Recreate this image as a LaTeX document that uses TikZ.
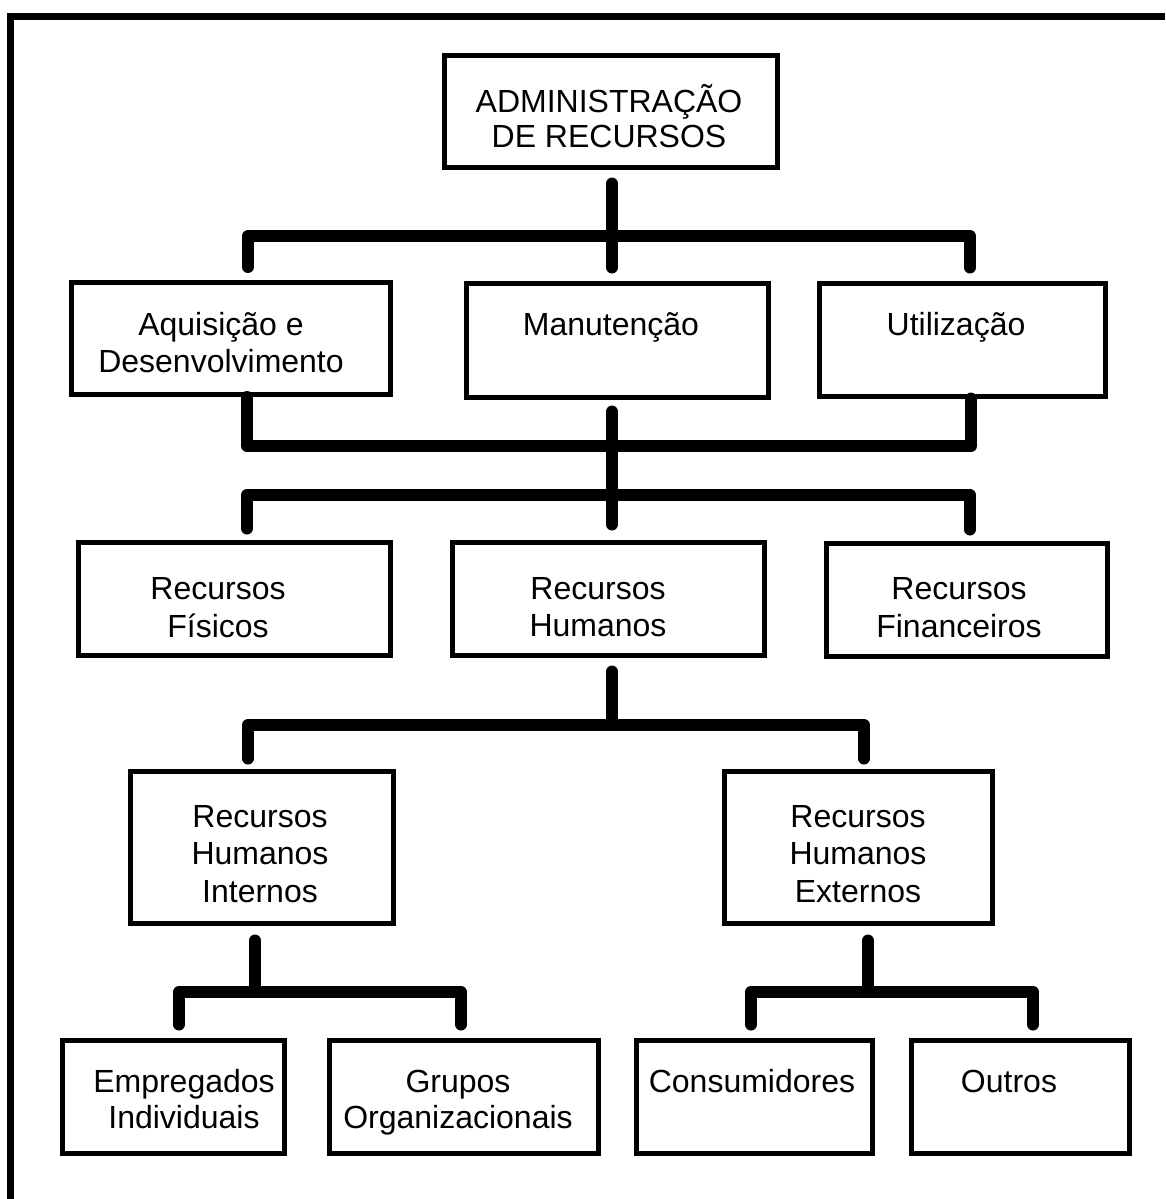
\documentclass[tikz,border=0pt]{standalone}
\usepackage{fontspec}
\setmainfont{Liberation Sans}
\usetikzlibrary{calc}

\tikzset{
  box/.style={draw, rectangle, line width=5pt, inner sep=0pt},
  txt/.style={anchor=base, inner sep=0pt, font=\fontsize{32}{37}\selectfont},
  conn/.style={line width=12pt, line cap=round, line join=round},
  frame/.style={line width=7pt}
}

\begin{document}
\begin{tikzpicture}[x=1pt, y=-1pt]
  \useasboundingbox[fill=white] (0,0) rectangle (1165,1199);

  % outer frame (left and top edges)
  \draw[frame] (10,1199) -- (10,17) -- (1165,17);

  % ---- boxes ----
  \node[box, minimum width=333pt, minimum height=111pt] (top) at (610.5,111.5) {};
  \node[box, minimum width=319.5pt, minimum height=112pt] (aq) at (230.75,338.5) {};
  \node[box, minimum width=302pt, minimum height=114pt] (ma) at (617,340) {};
  \node[box, minimum width=286pt, minimum height=113pt] (ut) at (962,339.5) {};
  \node[box, minimum width=312pt, minimum height=113pt] (fi) at (234,598.5) {};
  \node[box, minimum width=312pt, minimum height=113pt] (hu) at (608,598.5) {};
  \node[box, minimum width=281pt, minimum height=113pt] (fn) at (966.5,599.5) {};
  \node[box, minimum width=263pt, minimum height=152pt] (int) at (261.5,847) {};
  \node[box, minimum width=268pt, minimum height=152pt] (ext) at (858,847) {};
  \node[box, minimum width=222pt, minimum height=113pt] (em) at (173,1096.5) {};
  \node[box, minimum width=269pt, minimum height=113pt] (gr) at (463.5,1096.5) {};
  \node[box, minimum width=236pt, minimum height=113pt] (co) at (754,1096.5) {};
  \node[box, minimum width=218pt, minimum height=113pt] (ou) at (1020,1096.5) {};

  % ---- labels ----
  \node[txt] (top-1) at (609,112) {ADMINISTRAÇÃO};
  \node[txt] (top-2) at (609,147) {DE RECURSOS};
  \node[txt] (aq-1) at (221,335) {Aquisição e};
  \node[txt] (aq-2) at (221,372) {Desenvolvimento};
  \node[txt] (ma-1) at (611,335) {Manutenção};
  \node[txt] (ut-1) at (956,335) {Utilização};
  \node[txt] (fi-1) at (218,599) {Recursos};
  \node[txt] (fi-2) at (218,637) {Físicos};
  \node[txt] (hu-1) at (598,599) {Recursos};
  \node[txt] (hu-2) at (598,636) {Humanos};
  \node[txt] (fn-1) at (959,599) {Recursos};
  \node[txt] (fn-2) at (959,637) {Financeiros};
  \node[txt] (int-1) at (260,827) {Recursos};
  \node[txt] (int-2) at (260,864) {Humanos};
  \node[txt] (int-3) at (260,902) {Internos};
  \node[txt] (ext-1) at (858,827) {Recursos};
  \node[txt] (ext-2) at (858,864) {Humanos};
  \node[txt] (ext-3) at (858,902) {Externos};
  \node[txt] (em-1) at (184,1092) {Empregados};
  \node[txt] (em-2) at (184,1128) {Individuais};
  \node[txt] (gr-1) at (458,1092) {Grupos};
  \node[txt] (gr-2) at (458,1128) {Organizacionais};
  \node[txt] (co-1) at (752,1092) {Consumidores};
  \node[txt] (ou-1) at (1009,1092) {Outros};

  % ---- junction points of the bars ----
  \coordinate (c1l) at (248,236);
  \coordinate (c1m) at (612,236);
  \coordinate (c1r) at (970,236);
  \coordinate (c2l) at (247,446);
  \coordinate (c2m) at (612,446);
  \coordinate (c2r) at (971,446);
  \coordinate (c3l) at (247,495);
  \coordinate (c3r) at (970,495);
  \coordinate (c4l) at (248,725);
  \coordinate (c4m) at (612,725);
  \coordinate (c4r) at (864,725);
  \coordinate (c5a) at (255,992);
  \coordinate (c5al) at (179,992);
  \coordinate (c5ar) at (461,992);
  \coordinate (c5b) at (868,992);
  \coordinate (c5bl) at (751,992);
  \coordinate (c5br) at (1033,992);

  % ---- connectors ----
  % administration -> three functions
  \draw[conn] ($(top.south -| c1m)+(0,14)$) -- ($(ma.north -| c1m)+(0,-13)$);
  \draw[conn] ($(aq.north -| c1l)+(0,-13)$) -- (c1l) -- (c1r) -- ($(ut.north -| c1r)+(0,-13)$);

  % three functions -> common bar
  \draw[conn] (aq.south -| c2l) -- (c2l) -- (c2r) -- (ut.south -| c2r);
  \draw[conn] ($(ma.south -| c2m)+(0,12)$) -- ($(hu.north -| c2m)+(0,-15)$);

  % common bar -> resource types
  \draw[conn] ($(fi.north -| c3l)+(0,-11)$) -- (c3l) -- (c3r) -- ($(fn.north -| c3r)+(0,-11)$);

  % human resources -> internal / external
  \draw[conn] ($(hu.south -| c4m)+(0,14)$) -- (c4m);
  \draw[conn] ($(int.north -| c4l)+(0,-10)$) -- (c4l) -- (c4r) -- ($(ext.north -| c4r)+(0,-10)$);

  % internal -> employees / groups
  \draw[conn] ($(int.south -| c5a)+(0,15)$) -- (c5a);
  \draw[conn] ($(em.north -| c5al)+(0,-13)$) -- (c5al) -- (c5ar) -- ($(gr.north -| c5ar)+(0,-13)$);

  % external -> consumers / others
  \draw[conn] ($(ext.south -| c5b)+(0,15)$) -- (c5b);
  \draw[conn] ($(co.north -| c5bl)+(0,-13)$) -- (c5bl) -- (c5br) -- ($(ou.north -| c5br)+(0,-13)$);
\end{tikzpicture}
\end{document}
